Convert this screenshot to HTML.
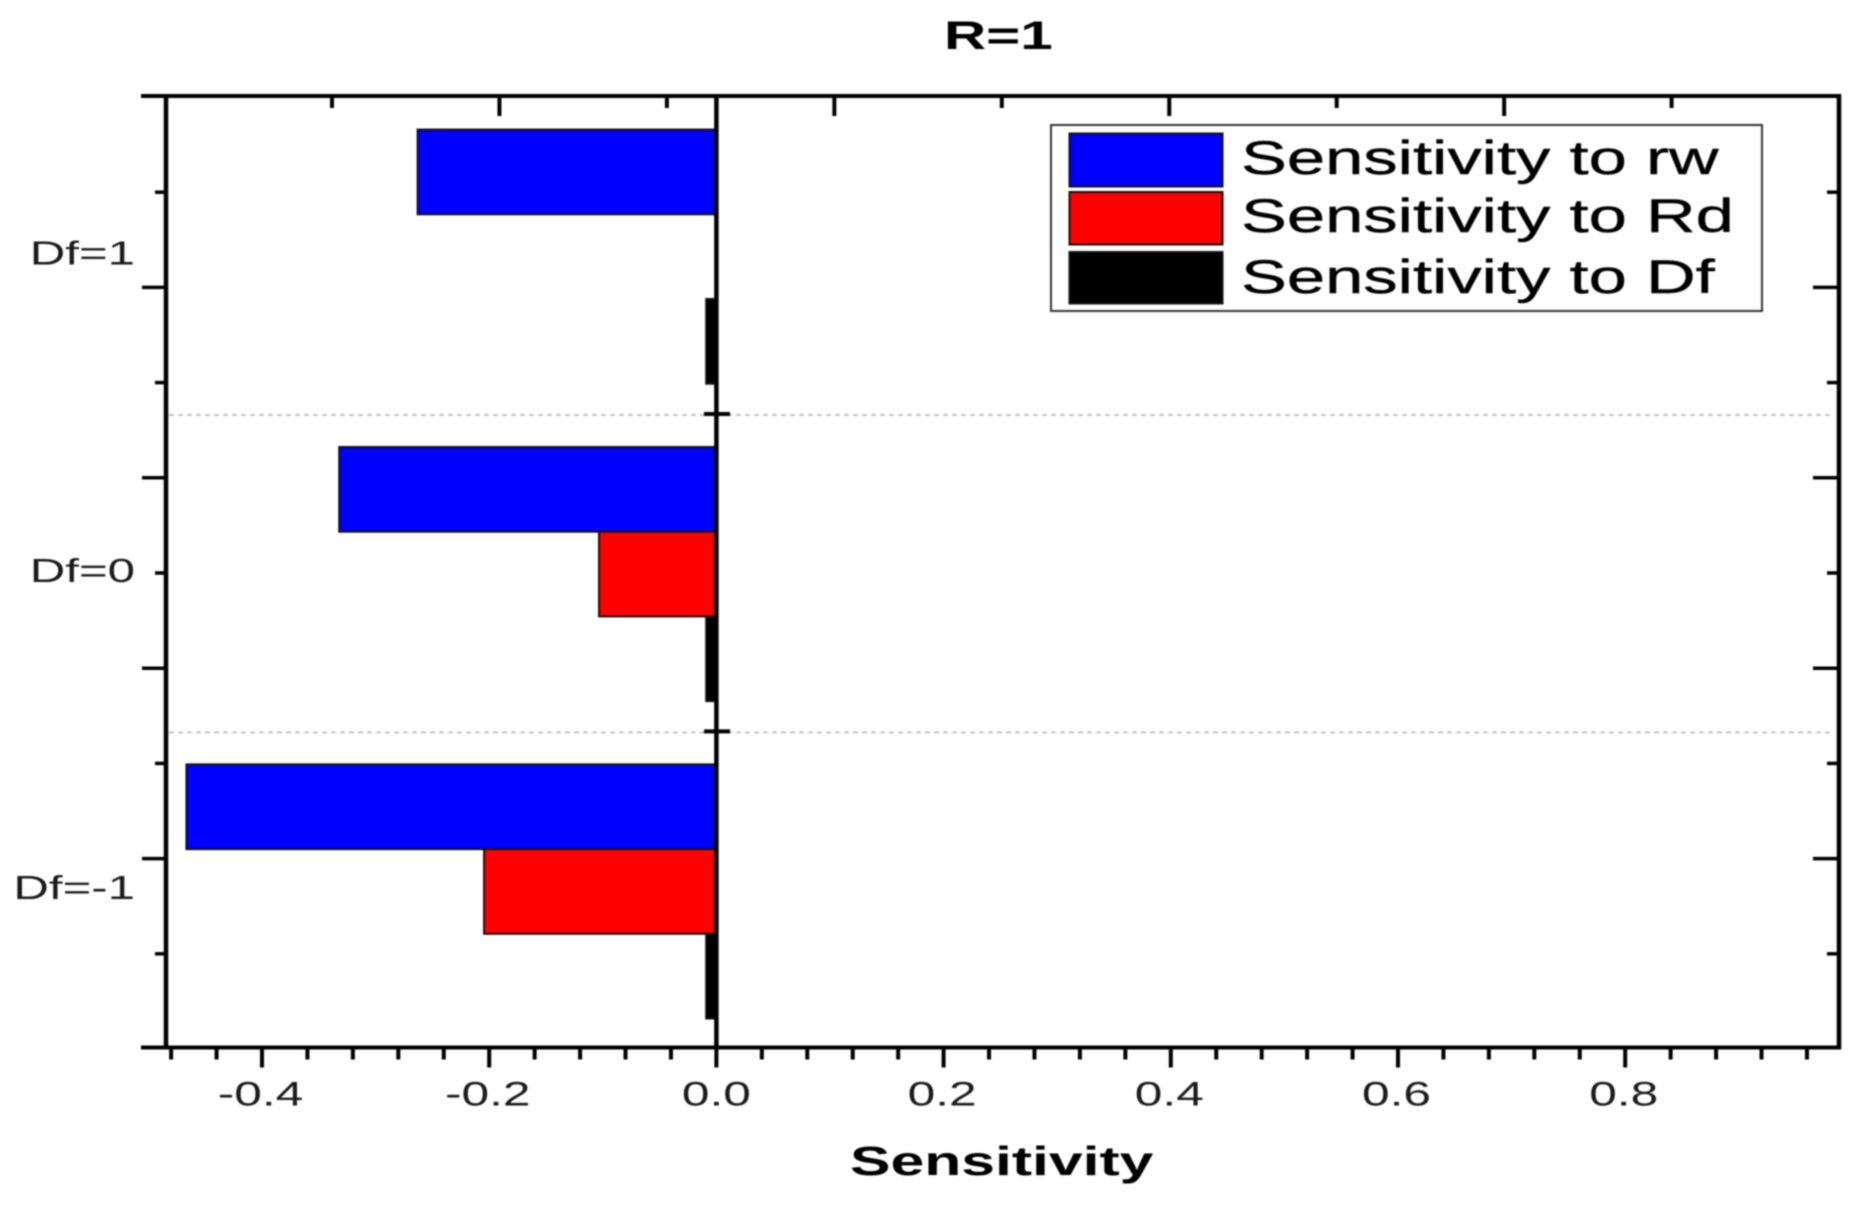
<!DOCTYPE html>
<html lang="en">
<head>
<meta charset="utf-8">
<title>R=1 Sensitivity chart</title>
<style>
  html, body { margin: 0; padding: 0; background: #fff; }
  body { width: 1864px; height: 1206px; overflow: hidden; }
  svg { display: block; filter: blur(0.7px); }
  text { font-family: "Liberation Sans", sans-serif; }
</style>
</head>
<body>
<svg id="chart" xmlns="http://www.w3.org/2000/svg" width="1864" height="1206" viewBox="0 0 1864 1206">
  <rect x="0" y="0" width="1864" height="1206" fill="#fff"/>
  <g id="separators"></g>
  <g id="bars"></g>
  <g id="axes"></g>
  <text transform="translate(944,49) scale(1.46,1)" font-size="40" font-weight="700" fill="#000">R=1</text>
  <text transform="translate(850,1175) scale(1.48,1)" font-size="41" font-weight="700" fill="#000">Sensitivity</text>
  <g>
    <rect x="1051" y="125" width="711" height="186" fill="#fff" stroke="#333" stroke-width="2"/>
    <g>
      <rect x="1069.5" y="133.5" width="153" height="53" fill="#0000ff" stroke="#111" stroke-width="2"/>
      <text transform="translate(1241,174) scale(1.463,1)" font-size="47" fill="#000" stroke="#000" stroke-width="0.4">Sensitivity to rw</text>
    </g>
    <g>
      <rect x="1069.5" y="192" width="153" height="52.5" fill="#ff0000" stroke="#111" stroke-width="2"/>
      <text transform="translate(1241,232) scale(1.463,1)" font-size="47" fill="#000" stroke="#000" stroke-width="0.4">Sensitivity to Rd</text>
    </g>
    <g>
      <rect x="1069.5" y="252" width="153" height="51.5" fill="#000" stroke="#111" stroke-width="2"/>
      <text transform="translate(1241,293) scale(1.463,1)" font-size="47" fill="#000" stroke="#000" stroke-width="0.4">Sensitivity to Df</text>
    </g>
  </g>
</svg>
<script>
// Chart data
const categories = ['Df=1', 'Df=0', 'Df=-1'];
const seriesNames = ['rw', 'rd', 'df'];
const sensitivityRw = [-0.263, -0.332, -0.4665];
const sensitivityRd = [0, -0.1033, -0.2045];
const sensitivityDf = [-0.009, -0.009, -0.009];
const xMajorTicks = [-0.4, -0.2, 0, 0.2, 0.4, 0.6, 0.8];
const xTickLabels = ['-0.4', '-0.2', '0.0', '0.2', '0.4', '0.6', '0.8'];
const xMinorTicks = [-0.48, -0.44, -0.36, -0.32, -0.28, -0.24, -0.16, -0.12, -0.08, -0.04, 0.04, 0.08, 0.12, 0.16, 0.24, 0.28, 0.32, 0.36, 0.44, 0.48, 0.52, 0.56, 0.64, 0.68, 0.72, 0.76, 0.84, 0.88, 0.92, 0.96];

const NS = 'http://www.w3.org/2000/svg';
const seriesFill = ['#0000ff', '#ff0000', '#000000'];
const allSeries = [sensitivityRw, sensitivityRd, sensitivityDf];

// Axis functions
function xScale(v) { return 716.4 + v * 1136; }
function barTop(cat, ser) { return 129.6 + cat * 317.4 + ser * 84.7; }
function yTickPos(k) { return 97 + k * 95.2; }
function topTickPos(k) { return 332 + k * 167.45; }

const LEFT = 166, RIGHT = 1839, TOP = 96, BOTTOM = 1047.5;
const barsG = document.getElementById('bars');
const axesG = document.getElementById('axes');
const sepG = document.getElementById('separators');

function line(parent, x1, y1, x2, y2, w, name) {
  const el = document.createElementNS(NS, 'line');
  el.setAttribute('x1', x1);
  el.setAttribute('y1', y1);
  el.setAttribute('x2', x2);
  el.setAttribute('y2', y2);
  el.setAttribute('stroke', '#000');
  el.setAttribute('stroke-width', w);
  
  
  parent.appendChild(el);
  return el;
}

function label(parent, x, y, str, size, anchor, sx, name) {
  const el = document.createElementNS(NS, 'text');
  el.setAttribute('transform', 'translate(' + x + ',' + y + ') scale(' + sx + ',1)');
  el.setAttribute('font-size', size);
  el.setAttribute('text-anchor', anchor);
  el.setAttribute('fill', '#1a1a1a');
  
  
  el.textContent = str;
  parent.appendChild(el);
  return el;
}

// Bars
allSeries.forEach(function (values, s) {
  values.forEach(function (v, c) {
    if (v === 0) return;
    const r = document.createElementNS(NS, 'rect');
    const x0 = xScale(v);
    r.setAttribute('x', x0);
    r.setAttribute('y', barTop(c, s));
    r.setAttribute('width', xScale(0) - x0);
    r.setAttribute('height', 84.7);
    r.setAttribute('fill', seriesFill[s]);
    r.setAttribute('stroke', '#111');
    r.setAttribute('stroke-width', 2);
    
    
    barsG.appendChild(r);
  });
});

// Group separators
[1, 2].forEach(function (c) {
  const y = barTop(c, 0) - 32;
  const sep = line(sepG, 169, y, 1833, y, 2, 'group-separator');
  sep.setAttribute('stroke', '#c4c4c4');
  sep.setAttribute('stroke-dasharray', '5 4');
  line(axesG, 704, y - 1, 730, y - 1, 4, 'zero-line-group-tick');
});

// Frame and zero line
line(axesG, LEFT, TOP, LEFT, BOTTOM + 2, 4.5, 'left-axis');
line(axesG, RIGHT, TOP - 2, RIGHT, BOTTOM + 2, 4.5, 'right-axis');
line(axesG, 141, TOP, RIGHT + 2, TOP, 4, 'top-axis');
line(axesG, 141, BOTTOM, RIGHT + 2, BOTTOM, 4, 'bottom-axis');
line(axesG, xScale(0), TOP, xScale(0), BOTTOM, 4.5, 'zero-line');

// X ticks (bottom)
xMajorTicks.forEach(function (v, i) {
  line(axesG, xScale(v), BOTTOM, xScale(v), BOTTOM + 20, 4, 'x-major-tick');
  label(axesG, xScale(v) - (i === 2 ? 0 : 1.5), 1105.5, xTickLabels[i], 34, 'middle', 1.46, 'x-tick-label');
});
xMinorTicks.forEach(function (v) {
  line(axesG, xScale(v), BOTTOM, xScale(v), BOTTOM + 12, 4, 'x-minor-tick');
});

// Top ticks
for (let k = 0; k < 9; k++) {
  const major = k % 2 === 1;
  line(axesG, topTickPos(k), TOP, topTickPos(k), TOP + (major ? 20 : 12), 4, major ? 'top-major-tick' : 'top-minor-tick');
}

// Y ticks (left and right)
for (let k = 1; k < 10; k++) {
  const major = k % 2 === 0;
  const y = yTickPos(k);
  line(axesG, LEFT, y, LEFT - (major ? 24 : 11), y, 3.5, major ? 'y-major-tick-left' : 'y-minor-tick-left');
  line(axesG, RIGHT, y, RIGHT - (major ? 26 : 12), y, 3.5, major ? 'y-major-tick-right' : 'y-minor-tick-right');
}

// Category labels
categories.forEach(function (name, c) {
  label(axesG, 135, barTop(c, 0) + 134.8, name, 33, 'end', 1.49, 'y-category-label');
});
</script>
</body>
</html>
